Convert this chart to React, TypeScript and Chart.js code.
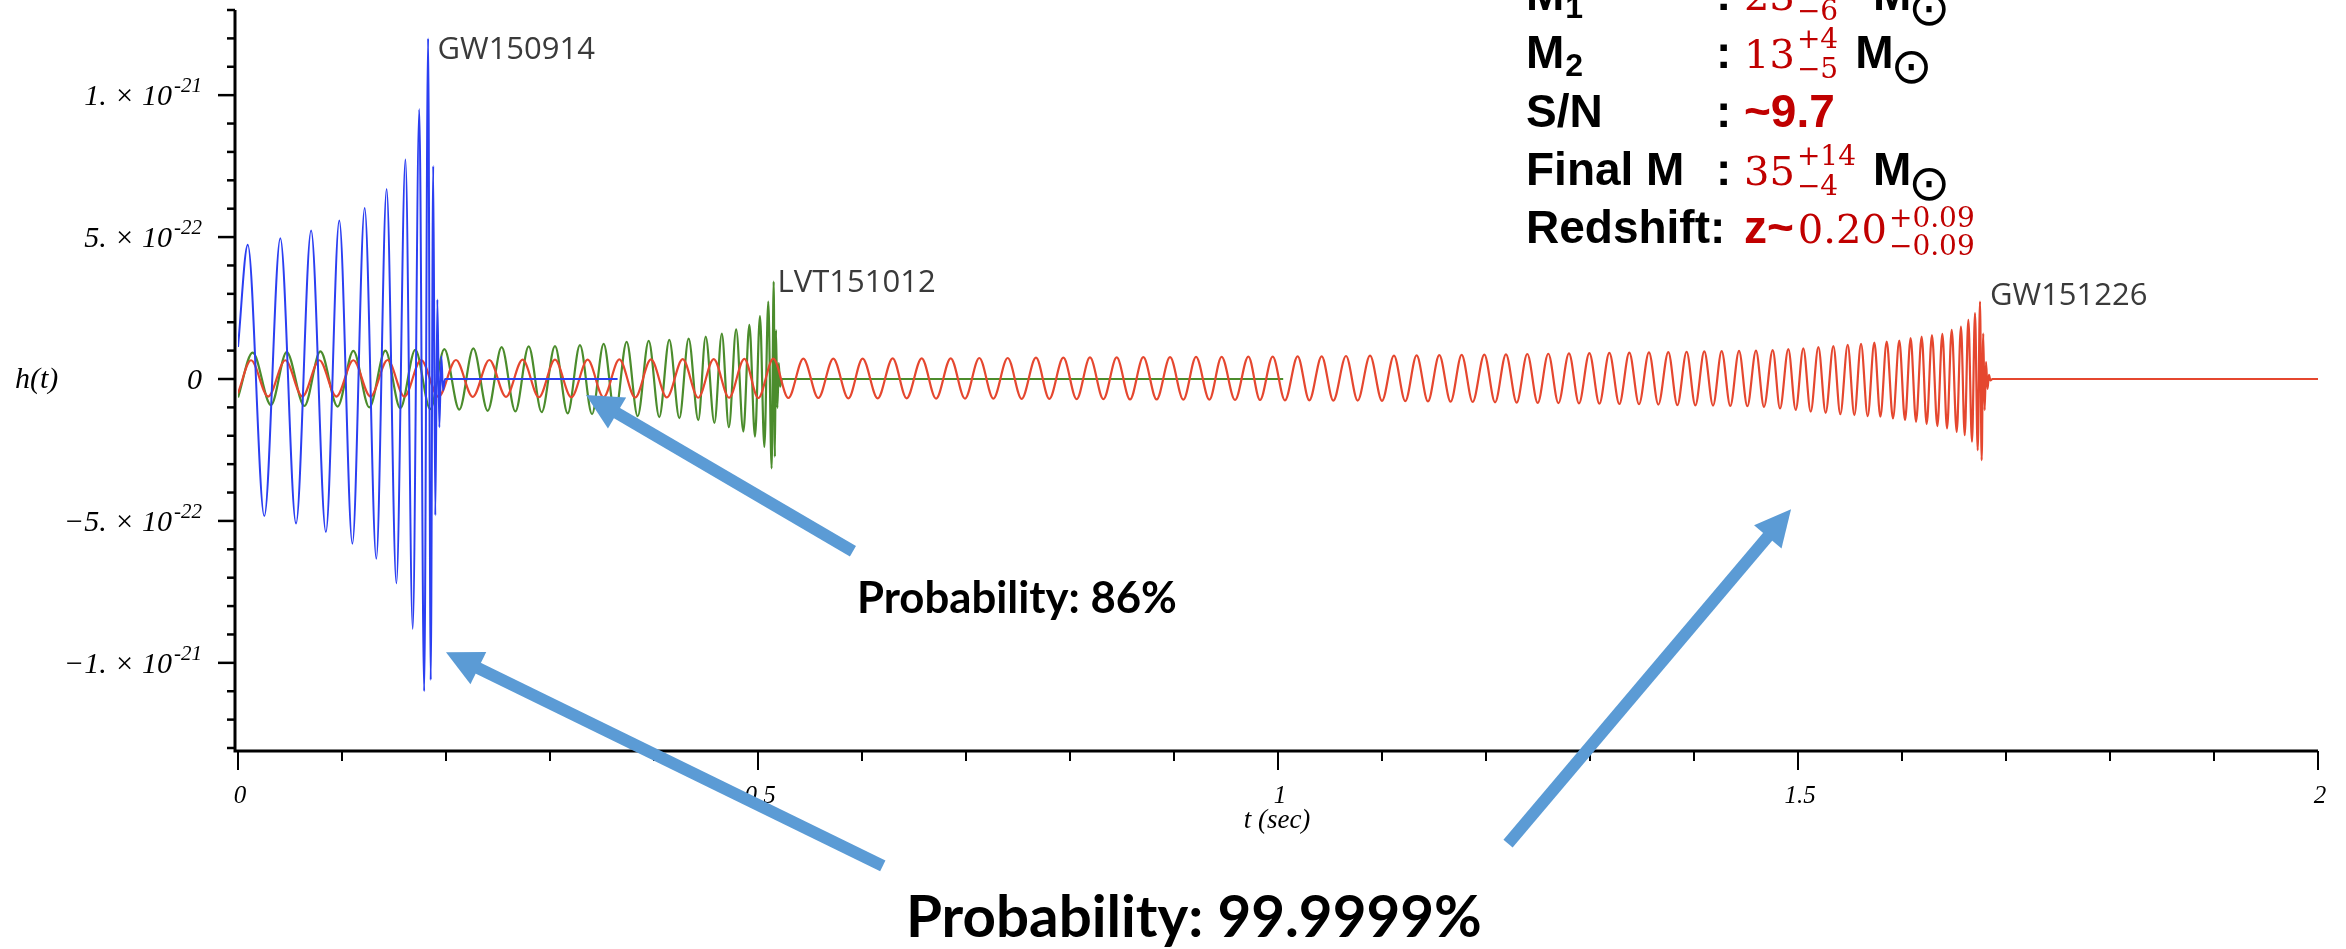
import React, { useEffect, useRef } from "react";
import { Chart, registerables } from "chart.js";

Chart.register(...registerables);

// ---------------- DATA (h in units of 1e-22, t in seconds) ----------------
// GW150914 (blue) – extrema
const blueT = [0, 0.0094, 0.0253, 0.0407, 0.0558, 0.0703, 0.0845, 0.0974, 0.110, 0.1218, 0.133, 0.1429, 0.1523, 0.161, 0.168, 0.1743, 0.179, 0.1828, 0.1853, 0.1877, 0.1897, 0.1917, 0.1936, 0.1955, 0.1972, 0.199, 0.365];
const blueH = [1.13, 4.73, -4.83, 4.96, -5.09, 5.23, -5.39, 5.58, -5.8, 6.02, -6.33, 6.69, -7.2, 7.73, -8.8, 9.5, -11.0, 12.0, -10.6, 7.5, -4.8, 2.8, -1.7, 0.8, -0.4, 0, 0];

// LVT151012 (green)
const greenT = [0, 0.0141, 0.0317, 0.0468, 0.0638, 0.0792, 0.0958, 0.1109, 0.1263, 0.1417, 0.1561, 0.1705, 0.1849, 0.1984, 0.2128, 0.2263, 0.2401, 0.2535, 0.2667, 0.2795, 0.292, 0.3048, 0.317, 0.3288, 0.3404, 0.3516, 0.3625, 0.3737, 0.3843, 0.3949, 0.4051, 0.4147, 0.4244, 0.4333, 0.4426, 0.4497, 0.4581, 0.4652, 0.472, 0.479, 0.4859, 0.4917, 0.4971, 0.5019, 0.5061, 0.5099, 0.5131, 0.5151, 0.5162, 0.5173, 0.5186, 0.52, 0.5212, 0.523, 1.005];
const greenH = [-0.65, 0.93, -0.92, 0.95, -0.95, 0.97, -0.97, 0.99, -1.0, 1.0, -1.03, 1.03, -1.06, 1.05, -1.08, 1.08, -1.12, 1.12, -1.14, 1.15, -1.17, 1.16, -1.21, 1.19, -1.24, 1.24, -1.27, 1.31, -1.31, 1.34, -1.34, 1.38, -1.38, 1.42, -1.45, 1.49, -1.55, 1.6, -1.7, 1.75, -1.85, 1.91, -2.03, 2.22, -2.39, 2.73, -3.15, 3.43, -2.74, 1.73, -1.02, 0.56, -0.27, 0, 0];

// GW151226 (red)
const redT = [
  0, 0.0125, 0.029, 0.0455, 0.0619, 0.0782, 0.0946, 0.1109, 0.1274, 0.1439, 0.16, 0.176, 0.1928, 0.2096, 0.2257, 0.2417, 0.2577, 0.2737, 0.2893, 0.3048, 0.3205, 0.3362, 0.3515, 0.3667, 0.3819, 0.3971, 0.4124, 0.4276, 0.4425, 0.4574, 0.4722, 0.4869, 0.5003,
  0.5147, 0.5292, 0.5436, 0.558, 0.5724, 0.5869, 0.6006, 0.6151, 0.6295, 0.6429, 0.6574, 0.6712, 0.6853, 0.699, 0.7128, 0.7263, 0.7401, 0.7535, 0.7673, 0.7801, 0.7936, 0.8064, 0.8192, 0.8321, 0.8449, 0.8577, 0.8705, 0.8833, 0.8962, 0.909, 0.9212, 0.934, 0.9458, 0.9587, 0.9715, 0.9827,
  0.9949, 1.0067, 1.0189, 1.0301, 1.042, 1.0532, 1.0654, 1.0766, 1.0885, 1.1, 1.1115, 1.1224, 1.1333, 1.1442, 1.1551, 1.166, 1.1766, 1.1872, 1.1984, 1.2087, 1.2192, 1.2295, 1.2397, 1.2497, 1.2599, 1.2696, 1.2798, 1.2894, 1.2994, 1.309, 1.3186, 1.3282, 1.3378, 1.3471, 1.3567, 1.3657, 1.3753, 1.384, 1.3929, 1.4013, 1.4099, 1.4183, 1.4266, 1.4349, 1.4433, 1.4513, 1.4596, 1.4673,
  1.4757, 1.4827, 1.4907, 1.4978, 1.5051, 1.5122, 1.5196, 1.5266, 1.534, 1.5407, 1.5478, 1.5542, 1.5606, 1.567, 1.5734, 1.5792, 1.5853, 1.5913, 1.5974, 1.6029, 1.6083, 1.6135, 1.6189, 1.6237, 1.6288, 1.634, 1.6388, 1.6433, 1.6478, 1.6526, 1.6567, 1.6603, 1.6638, 1.6673, 1.6702, 1.6728, 1.675, 1.6766, 1.6781, 1.6795, 1.6808, 1.6822, 1.6836, 1.685, 1.687, 2.0,
];
const redH = [
  -0.5, 0.66, -0.62, 0.66, -0.62, 0.66, -0.62, 0.66, -0.62, 0.67, -0.62, 0.67, -0.63, 0.67, -0.63, 0.67, -0.63, 0.68, -0.64, 0.68, -0.64, 0.68, -0.64, 0.69, -0.65, 0.69, -0.65, 0.7, -0.66, 0.7, -0.66, 0.71, -0.67,
  0.72, -0.67, 0.72, -0.67, 0.72, -0.68, 0.72, -0.68, 0.73, -0.68, 0.73, -0.69, 0.73, -0.69, 0.74, -0.69, 0.74, -0.7, 0.75, -0.7, 0.75, -0.71, 0.76, -0.71, 0.76, -0.72, 0.77, -0.72, 0.77, -0.73, 0.78, -0.73, 0.78, -0.74, 0.79, -0.74,
  0.79, -0.75, 0.8, -0.75, 0.8, -0.76, 0.81, -0.76, 0.82, -0.77, 0.82, -0.78, 0.83, -0.79, 0.84, -0.8, 0.85, -0.81, 0.86, -0.82, 0.87, -0.83, 0.88, -0.84, 0.89, -0.85, 0.9, -0.86, 0.91, -0.87, 0.92, -0.88, 0.93, -0.89, 0.94, -0.9, 0.95, -0.92, 0.96, -0.93, 0.97, -0.94, 0.98, -0.95, 0.99, -0.96, 1.0, -0.98,
  1.02, -1.04, 1.05, -1.09, 1.08, -1.15, 1.12, -1.19, 1.16, -1.24, 1.2, -1.27, 1.24, -1.31, 1.28, -1.33, 1.32, -1.39, 1.35, -1.45, 1.44, -1.51, 1.49, -1.59, 1.55, -1.66, 1.59, -1.74, 1.73, -1.86, 1.85, -1.98, 2.08, -2.21, 2.32, -2.51, 2.73, -2.86, 1.6, -1.1, 0.6, -0.35, 0.15, -0.05, 0, 0,
];

// axes
const xMin = 0, xMax = 2;
const yMin = -13, yMax = 13;
const xMajorTicks = [0, 0.5, 1, 1.5, 2];
const xTickLabels = ["0", "0.5", "1", "1.5", "2"];
const xMinorStep = 0.1;
const yMajorTicks = [10, 5, 0, -5, -10];
const yTickMantissa = ["1. × 10", "5. × 10", "0", "−5. × 10", "−1. × 10"];
const yTickExponent = ["-21", "-22", "", "-22", "-21"];
const yMinorStep = 1;
const xTitle = "t (sec)";
const yTitle = "h(t)";

// event labels (anchored in data coordinates)
const eventNames = ["GW150914", "LVT151012", "GW151226"];
const eventLabelT = [0.1918, 0.5188, 1.6846];
const eventLabelH = [11.26, 3.08, 2.61];

// arrows (data coordinates)
const arrowTip = [[0.3346, -0.56], [0.2, -9.63], [1.4933, -4.59]];
const arrowTail = [[0.5913, -6.07], [0.62, -17.15], [1.2212, -16.37]];

// info block
const infoLabels = ["M", "M", "S/N", "Final M", "Redshift:"];
const infoLabelSubs = ["1", "2", "", "", ""];
const infoPrefix = ["", "", "~9.7", "", "z~"];
const infoValues = ["23", "13", "", "35", "0.20"];
const infoSup = ["+18", "+4", "", "+14", "+0.09"];
const infoSub = ["−6", "−5", "", "−4", "−0.09"];
const infoUnit = [true, true, false, true, false];

const prob1 = "Probability: 86%";
const prob2 = "Probability: 99.9999%";

const BLUE = "#2b3ff2";
const GREEN = "#4b8c2c";
const RED = "#e5472f";
const ARROW = "#5b9bd5";
const DARKRED = "#c00000";

function pts(t: number[], h: number[]) {
  return t.map((x, i) => ({ x, y: h[i] }));
}

function drawArrow(ctx: CanvasRenderingContext2D, x0: number, y0: number, x1: number, y1: number) {
  const dx = x1 - x0, dy = y1 - y0;
  const L = Math.hypot(dx, dy);
  const ux = dx / L, uy = dy / L;
  const headL = 36, headW = 36, shaft = 12;
  const bx = x1 - ux * headL, by = y1 - uy * headL;
  ctx.strokeStyle = ARROW;
  ctx.fillStyle = ARROW;
  ctx.lineWidth = shaft;
  ctx.lineCap = "butt";
  ctx.beginPath();
  ctx.moveTo(x0, y0);
  ctx.lineTo(bx + ux * 2, by + uy * 2);
  ctx.stroke();
  ctx.beginPath();
  ctx.moveTo(x1, y1);
  ctx.lineTo(bx - uy * headW / 2, by + ux * headW / 2);
  ctx.lineTo(bx + uy * headW / 2, by - ux * headW / 2);
  ctx.closePath();
  ctx.fill();
}

function fitFont(ctx: CanvasRenderingContext2D, text: string, pre: string, family: string, w: number) {
  ctx.font = `${pre} 100px ${family}`;
  const m = ctx.measureText(text).width;
  return `${pre} ${(100 * w) / m}px ${family}`;
}

const overlayPlugin = {
  id: "overlay",
  afterDraw(chart: any) {
    const ctx: CanvasRenderingContext2D = chart.ctx;
    const xs = chart.scales.x, ys = chart.scales.y;
    const { left, right, top, bottom } = chart.chartArea;
    const axisX = left - 3;
    const axisY = bottom + 3;
    ctx.save();

    // axes lines
    ctx.strokeStyle = "#000";
    ctx.lineWidth = 3;
    ctx.beginPath();
    ctx.moveTo(axisX, top);
    ctx.lineTo(axisX, axisY);
    ctx.lineTo(right, axisY);
    ctx.stroke();

    // y ticks
    ctx.lineWidth = 2.5;
    for (let v = yMin; v <= yMax + 1e-9; v += yMinorStep) {
      const y = ys.getPixelForValue(v);
      const major = yMajorTicks.some((m) => Math.abs(m - v) < 1e-9);
      ctx.beginPath();
      ctx.moveTo(axisX - (major ? 17 : 8), y);
      ctx.lineTo(axisX, y);
      ctx.stroke();
    }
    // x ticks
    ctx.lineWidth = 2;
    const nX = Math.round((xMax - xMin) / xMinorStep);
    for (let i = 0; i <= nX; i++) {
      const v = xMin + i * xMinorStep;
      const x = xs.getPixelForValue(v);
      const major = xMajorTicks.some((m) => Math.abs(m - v) < 1e-9);
      ctx.beginPath();
      ctx.moveTo(x, axisY);
      ctx.lineTo(x, axisY + (major ? 19 : 10));
      ctx.stroke();
    }

    // y tick labels
    ctx.fillStyle = "#000";
    ctx.textBaseline = "alphabetic";
    ctx.textAlign = "left";
    const R = 202;
    yMajorTicks.forEach((v, i) => {
      const y = ys.getPixelForValue(v);
      ctx.font = 'italic 21px "Liberation Serif"';
      const supW = yTickExponent[i] ? ctx.measureText(yTickExponent[i]).width : 0;
      if (yTickExponent[i]) ctx.fillText(yTickExponent[i], R - supW, y - 3);
      ctx.font = 'italic 30px "Liberation Serif"';
      const mw = ctx.measureText(yTickMantissa[i]).width;
      ctx.fillText(yTickMantissa[i], R - supW - mw - (yTickExponent[i] ? 2 : 0), y + 10);
    });
    // y title
    ctx.font = 'italic 30px "Liberation Serif"';
    ctx.fillText(yTitle, 15, ys.getPixelForValue(0) + 9);

    // x tick labels
    ctx.font = 'italic 25px "Liberation Serif"';
    ctx.textAlign = "center";
    xMajorTicks.forEach((v, i) => {
      ctx.fillText(xTickLabels[i], xs.getPixelForValue(v) + 2, axisY + 52);
    });
    ctx.font = 'italic 27px "Liberation Serif"';
    ctx.fillText(xTitle, (left + right) / 2 - 1, axisY + 77);

    // event labels
    ctx.textAlign = "left";
    ctx.fillStyle = "#3a3a3a";
    ctx.font = '31px "Open Sans"';
    eventNames.forEach((n, i) => {
      ctx.fillText(n, xs.getPixelForValue(eventLabelT[i]), ys.getPixelForValue(eventLabelH[i]));
    });

    // info block
    const labX = 1526, colonX = 1716, valX = 1744;
    const baselines = [10, 68, 127, 185, 243];
    infoLabels.forEach((lab, i) => {
      const b = baselines[i];
      ctx.fillStyle = "#000";
      ctx.font = '700 46px "Liberation Sans"';
      ctx.fillText(lab, labX, b);
      const lw = ctx.measureText(lab).width;
      if (infoLabelSubs[i]) {
        ctx.font = '700 32px "Liberation Sans"';
        ctx.fillText(infoLabelSubs[i], labX + lw + 1, b + 8);
      }
      if (!lab.endsWith(":")) {
        ctx.font = '700 46px "Liberation Sans"';
        ctx.fillText(":", colonX, b);
      }
      let x = valX;
      ctx.fillStyle = DARKRED;
      if (infoPrefix[i]) {
        ctx.font = '700 46px "Liberation Sans"';
        ctx.fillText(infoPrefix[i], x, b);
        x += ctx.measureText(infoPrefix[i]).width + 4;
      }
      if (infoValues[i]) {
        ctx.font = '40px "DejaVu Serif"';
        ctx.fillText(infoValues[i], x, b);
        x += ctx.measureText(infoValues[i]).width + 2;
        const red = i === 4;
        ctx.font = '28px "DejaVu Serif"';
        ctx.fillText(infoSup[i], x, b - (red ? 16 : 20));
        ctx.fillText(infoSub[i], x, b + (red ? 12 : 10));
        const sw = Math.max(ctx.measureText(infoSup[i]).width, ctx.measureText(infoSub[i]).width);
        x += sw + 17;
      }
      if (infoUnit[i]) {
        ctx.fillStyle = "#000";
        ctx.font = '700 46px "Liberation Sans"';
        ctx.fillText("M", x, b);
        x += ctx.measureText("M").width - 3;
        ctx.font = '50px "DejaVu Sans"';
        ctx.fillText("⊙", x, b + 15);
      }
    });

    // arrows
    arrowTip.forEach((tp, i) => {
      const tl = arrowTail[i];
      drawArrow(ctx, xs.getPixelForValue(tl[0]), ys.getPixelForValue(tl[1]), xs.getPixelForValue(tp[0]), ys.getPixelForValue(tp[1]));
    });

    // probability texts
    ctx.fillStyle = "#000";
    ctx.textAlign = "left";
    ctx.font = fitFont(ctx, prob1, "700", '"Lato"', 320);
    ctx.fillText(prob1, 857, 613);
    ctx.font = fitFont(ctx, prob2, "700", '"Lato"', 576);
    ctx.fillText(prob2, 906, 937);

    ctx.restore();
  },
};

export default function App() {
  const ref = useRef<HTMLCanvasElement>(null);
  useEffect(() => {
    document.body.style.margin = "0";
    const canvas = ref.current!;
    const chart = new Chart(canvas, {
      type: "line",
      data: {
        datasets: [
          { label: "GW150914", data: pts(blueT, blueH), borderColor: BLUE, borderWidth: 2 },
          { label: "GW151226", data: pts(redT, redH), borderColor: RED, borderWidth: 2.2 },
          { label: "LVT151012", data: pts(greenT, greenH), borderColor: GREEN, borderWidth: 2.2 },
        ],
      },
      options: {
        responsive: false,
        animation: false,
        devicePixelRatio: 1,
        layout: { padding: { left: 238, right: 28, top: 10, bottom: 201 } },
        elements: {
          point: { radius: 0 },
          line: { cubicInterpolationMode: "monotone", fill: false },
        },
        scales: {
          x: { type: "linear", min: xMin, max: xMax, display: false },
          y: { type: "linear", min: yMin, max: yMax, display: false },
        },
        plugins: { legend: { display: false }, tooltip: { enabled: false } },
      },
      plugins: [overlayPlugin],
    } as any);
    return () => chart.destroy();
  }, []);
  return (
    <canvas
      ref={ref}
      width={2346}
      height={949}
      style={{ display: "block", width: 2346, height: 949, background: "#fff" }}
    />
  );
}
